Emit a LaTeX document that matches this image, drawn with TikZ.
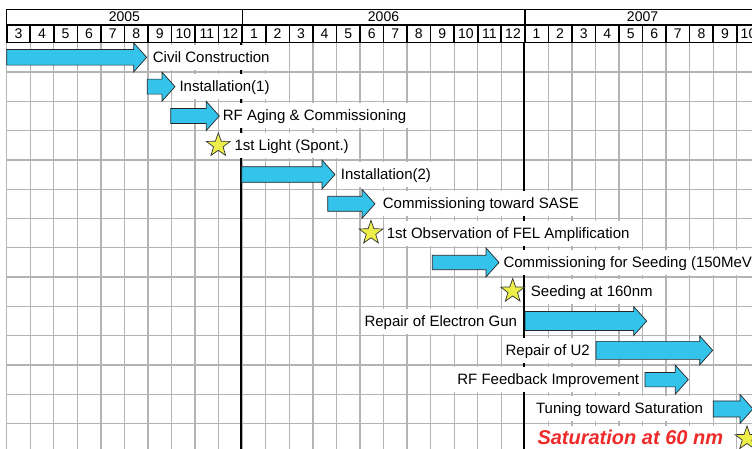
\documentclass[tikz,border=0pt]{standalone}
\usepackage{fontspec}
\setmainfont{Liberation Sans}
\usepackage{tikz}
\usetikzlibrary{shapes.geometric}

\definecolor{barblue}{HTML}{33C3EB}
\definecolor{staryellow}{HTML}{EEEE4A}
\definecolor{gridgray}{HTML}{B4B4B4}
\definecolor{satred}{HTML}{EE2A2A}

\begin{document}
\begin{tikzpicture}[x=1pt,y=-1pt,
  gridline/.style={gridgray,line width=1.3pt},
  yearline/.style={black,line width=2pt},
  monthcell/.style={draw,line width=1.6pt,minimum width=23.55pt,
    minimum height=17.7pt,inner sep=0pt,font=\fontsize{14}{16}\selectfont},
  yearcell/.style={draw,line width=1.4pt,minimum height=15.7pt,
    inner sep=0pt,font=\fontsize{14}{16}\selectfont},
  bararrow/.style={fill=barblue,draw=black!85,line width=0.7pt,line join=miter},
  tasklabel/.style={fill=white,inner xsep=3pt,inner ysep=0pt,minimum height=25pt,
    text height=12pt,text depth=2pt,font=\fontsize{15}{18}\selectfont},
  milestone/.style={star,star points=5,star point ratio=2.5,minimum size=25pt,
    inner sep=0pt,fill=staryellow,draw=black!80,line width=0.7pt}]
  \useasboundingbox (0,0) rectangle (752,449);
  \clip (0,0) rectangle (752,449);
  % month grid
  \foreach \i in {0,...,32}
    \draw[gridline] ({6.7+23.55*\i},42.7) -- ({6.7+23.55*\i},449);
  \foreach \k in {0,...,13}
    \draw[gridline] (6.7,{42.7+29.3*\k}) -- (762,{42.7+29.3*\k});
  % header
  \node[yearcell,minimum width=235.5pt] (y2005) at (124.45,17.15) {2005};
  \node[yearcell,minimum width=282.6pt] (y2006) at (383.5,17.15) {2006};
  \node[yearcell,minimum width=235.5pt] (y2007) at (642.55,17.15) {2007};
  \foreach \i in {0,...,31}{
    \pgfmathtruncatemacro{\mon}{mod(\i+2,12)+1}
    \node[monthcell] (m\i) at ({6.7+23.55*(\i+0.5)},33.85) {\mon};
  }
  \draw[yearline] (m10.south west) -- ++(0,406.3);
  \draw[yearline] (m22.south west) -- ++(0,406.3);
  % bars: start/tip/row/half body
  \foreach \s/\t/\r/\b in {6.7/146.7/1/7.8, 147.3/175/2/7.5, 170.7/219.3/3/7.5,
      241.7/335/5/7.8, 327.7/375/6/7.5, 432.3/499/8/7.2, 525/646.7/10/9.5,
      596/712.7/11/9, 645/688.3/12/7.2, 713.3/753/13/8}{
    \pgfmathsetmacro{\yc}{28.05+29.3*\r}
    \draw[bararrow] (\s,\yc-\b) -- (\t-13,\yc-\b) -- (\t-13,\yc-14.5) -- (\t,\yc)
      -- (\t-13,\yc+14.5) -- (\t-13,\yc+\b) -- (\s,\yc+\b) -- cycle;
  }
  % labels
  \node[tasklabel,anchor=west] (civil) at (149.7,57.35) {Civil Construction};
  \node[tasklabel,anchor=west] (inst1) at (176.3,86.65) {Installation(1)};
  \node[tasklabel,anchor=west] (rfaging) at (219.7,115.95) {RF Aging \& Commissioning};
  \node[tasklabel,anchor=west] (light) at (231.3,145.25) {1st Light (Spont.)};
  \node[tasklabel,anchor=west] (inst2) at (337.7,174.55) {Installation(2)};
  \node[tasklabel,anchor=west] (sase) at (379.7,203.85) {Commissioning toward SASE};
  \node[tasklabel,anchor=west] (amp) at (383.7,233.15) {1st Observation of FEL Amplification};
  \node[tasklabel,anchor=west] (seedcomm) at (500.3,262.45) {Commissioning for Seeding (150MeV)};
  \node[tasklabel,anchor=west] (seed) at (527.7,291.75) {Seeding at 160nm};
  \node[tasklabel,anchor=east] (gun) at (520.3,321.05) {Repair of Electron Gun};
  \node[tasklabel,anchor=east] (u2) at (593,350.35) {Repair of U2};
  \node[tasklabel,anchor=east] (rffb) at (642.3,379.65) {RF Feedback Improvement};
  \node[tasklabel,anchor=east] (tuning) at (706.3,408.95) {Tuning toward Saturation};
  \node[tasklabel,anchor=west,text=satred,text height=14pt,text depth=1pt,
    font=\fontsize{20}{24}\selectfont\bfseries\itshape] (sat) at (534.3,438.25)
    {Saturation at 60 nm};
  % milestones
  \node[milestone] (lightstar) at (218.3,145.3) {};
  \node[milestone] (ampstar) at (371,232.8) {};
  \node[milestone] (seedstar) at (512.7,291) {};
  \node[milestone] (satstar) at (747,438.5) {};
\end{tikzpicture}
\end{document}
